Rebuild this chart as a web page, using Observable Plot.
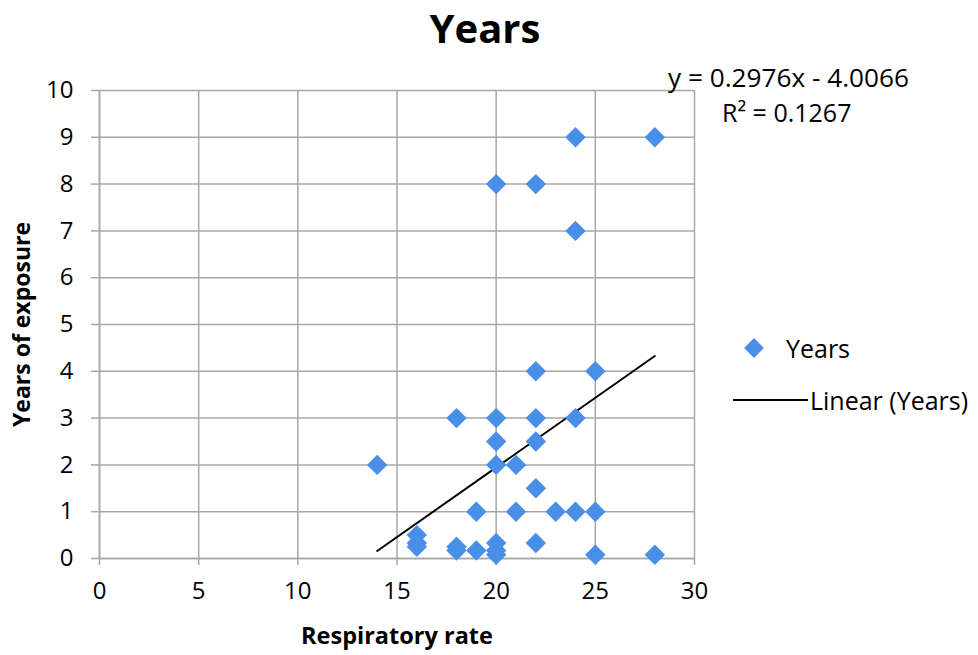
<!DOCTYPE html>
<html>
<head>
<meta charset="utf-8">
<script src="https://cdn.jsdelivr.net/npm/d3@7"></script>
<script src="https://cdn.jsdelivr.net/npm/@observablehq/plot@0.6"></script>
<style>
  body { margin: 0; background: #fff; font-family: "Open Sans", "Liberation Sans", sans-serif; }
  #wrap { position: relative; width: 978px; height: 655px; }
  #title { position: absolute; left: 0; top: 0; width: 970px; text-align: center; font-size: 40px; font-weight: bold; line-height: 56px; color: #000; }
  #chart { position: absolute; left: 0; top: 60px; }
  .eq { position: absolute; line-height: 30px; color: #000; white-space: nowrap; }
  .leg { position: absolute; font-size: 25px; line-height: 30px; color: #000; white-space: nowrap; }
</style>
</head>
<body>
<div id="wrap">
  <div id="title">Years</div>
  <div id="chart"></div>
  <div class="eq" style="left:668px; top:62px; font-size:26.2px;">y = 0.2976x - 4.0066</div>
  <div class="eq" style="left:722px; top:97px; font-size:25px;">R² = 0.1267</div>
  <div class="leg" style="left:747px; top:330px;"><span style="display:inline-block;width:14px;height:14px;background:#4a8fe7;transform:rotate(45deg);vertical-align:middle;margin-right:25px;"></span><span style="vertical-align:middle;">Years</span></div>
  <div class="leg" style="left:733px; top:382px;"><span style="display:inline-block;width:75px;height:2px;background:#000;vertical-align:middle;margin-right:2px;"></span><span style="vertical-align:middle;">Linear (Years)</span></div>
</div>
<script>
// Respiratory rate (x) and years of exposure (y)
const respRate = [14, 16, 16, 16, 18, 18, 18, 19, 19, 20, 20, 20, 20, 20, 20, 20, 21, 21, 22, 22, 22, 22, 22, 22, 23, 24, 24, 24, 24, 25, 25, 25, 28, 28];
const years    = [2, 0.5, 0.33, 0.25, 3, 0.25, 0.17, 1, 0.17, 8, 3, 2.5, 2, 0.33, 0.17, 0.08, 2, 1, 8, 4, 3, 2.5, 1.5, 0.33, 1, 9, 7, 3, 1, 4, 1, 0.08, 9, 0.08];
// Trend line as printed on the chart
const slope = 0.2976;
const intercept = -4.0066;
const xTicks = [0, 5, 10, 15, 20, 25, 30];
const yTicks = [0, 1, 2, 3, 4, 5, 6, 7, 8, 9, 10];

const points = respRate.map((x, i) => ({x, y: years[i]}));
const xMin = d3.min(respRate), xMax = d3.max(respRate);
const trend = [xMin, xMax].map(x => ({x, y: slope * x + intercept}));

const gridColor = "#a3a8a8";
const chart = Plot.plot({
  width: 978,
  height: 595,
  marginLeft: 99,
  marginRight: 284,
  marginTop: 30,
  marginBottom: 97,
  style: {fontFamily: "'Open Sans', 'Liberation Sans', sans-serif", fontSize: "24px", color: "#000", background: "#fff"},
  x: {domain: [0, 30], ticks: xTicks, label: null},
  y: {domain: [0, 10], ticks: yTicks, label: null},
  marks: [
    Plot.gridX(xTicks, {stroke: gridColor, strokeOpacity: 1, strokeWidth: 1.5}),
    Plot.gridY(yTicks, {stroke: gridColor, strokeOpacity: 1, strokeWidth: 1.5}),
    Plot.axisX({ticks: xTicks, tickSize: 7, tickPadding: 16, stroke: gridColor, strokeWidth: 1.5, fontSize: 24, fill: "#000"}),
    Plot.axisY({ticks: yTicks, tickSize: 8, tickPadding: 18, stroke: gridColor, strokeWidth: 1.5, fontSize: 24, fill: "#000"}),
    Plot.ruleX([0], {stroke: gridColor, strokeWidth: 1.5}),
    Plot.ruleY([0], {stroke: gridColor, strokeWidth: 1.5}),
    Plot.line(trend, {x: "x", y: "y", stroke: "#000", strokeWidth: 2}),
    Plot.dot(points, {x: "x", y: "y", symbol: "diamond2", r: 9.2, fill: "#4a8fe7", stroke: "none"}),
    Plot.text(["Respiratory rate"], {frameAnchor: "bottom", dy: 85, fontWeight: "bold", fontSize: 23.5, fill: "#000"}),
    Plot.text(["Years of exposure"], {frameAnchor: "left", textAnchor: "middle", dx: -77, rotate: -90, fontWeight: "bold", fontSize: 23, fill: "#000"})
  ]
});
document.getElementById("chart").appendChild(chart);
</script>
</body>
</html>
